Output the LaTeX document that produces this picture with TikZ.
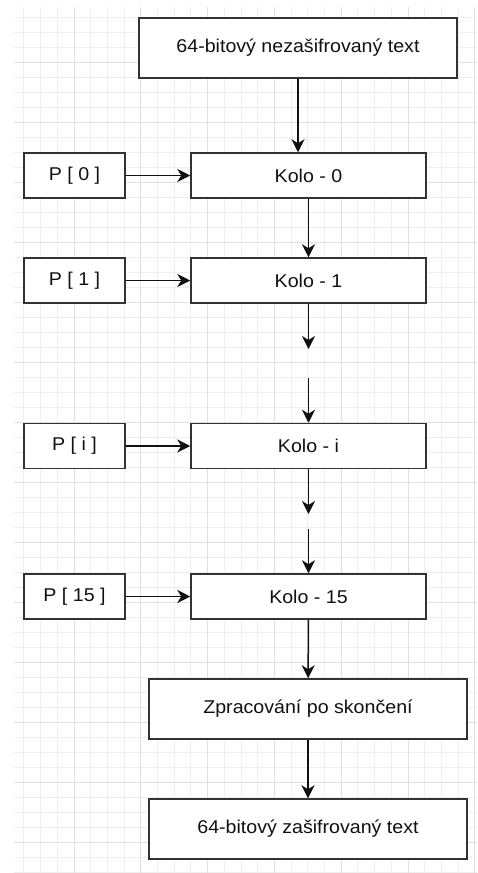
\documentclass[tikz,border=0pt]{standalone}
\usepackage{fontspec}
\setmainfont{Liberation Sans}
\usepackage{graphicx}
\usetikzlibrary{arrows.meta}
\definecolor{gridmajor}{HTML}{E0E0E0}
\definecolor{gridminor}{HTML}{EFEFEF}
\definecolor{boxline}{HTML}{333333}
\definecolor{ink}{HTML}{111111}
\newcommand{\widetxt}[1]{\scalebox{1.06}[1]{#1}}
\tikzset{
  stepbox/.style={draw=boxline, line width=1.5pt, fill=white, inner sep=0pt,
    font=\fontsize{18.5}{20}\selectfont, text=ink},
  flow/.style={draw=ink, line width=1.5pt,
    -{Stealth[length=13pt, width=13pt, inset=4pt]}},
}
\begin{document}
\begin{tikzpicture}[x=1pt, y=-1pt]
  \useasboundingbox (0,0) rectangle (477,873);
  \fill[white] (0,0) rectangle (477,873);
  % background grid
  \begin{scope}
    \clip (14,7) rectangle (477,873);
    \foreach \k in {-4,...,24} {
      \draw[gridminor, line width=1pt] ({74+16.7*\k},0) -- ({74+16.7*\k},873);
    }
    \foreach \k in {-4,...,55} {
      \draw[gridminor, line width=1pt] (0,{62+15*\k}) -- (477,{62+15*\k});
    }
    \foreach \k in {-1,...,6} {
      \draw[gridmajor, line width=1pt] ({74+66.8*\k},0) -- ({74+66.8*\k},873);
    }
    \foreach \k in {-1,...,13} {
      \draw[gridmajor, line width=1pt] (0,{62+60*\k}) -- (477,{62+60*\k});
    }
  \end{scope}

  % blocks
  \node[stepbox, minimum width=318, minimum height=60] (plain) at (298,48) {\widetxt{64-bitový nezašifrovaný text}};

  \node[stepbox, minimum width=235, minimum height=45] (k0) at (308.5,175.5) {\widetxt{Kolo - 0}};
  \node[stepbox, minimum width=101, minimum height=45] (p0) at (74.5,175.5) {\widetxt{P [ 0 ]}};

  \node[stepbox, minimum width=235, minimum height=45] (k1) at (308.5,280.5) {\widetxt{Kolo - 1}};
  \node[stepbox, minimum width=101, minimum height=45] (p1) at (74.5,280.5) {\widetxt{P [ 1 ]}};

  \node[stepbox, minimum width=235, minimum height=45] (ki) at (308.5,446) {\widetxt{Kolo - i}};
  \node[stepbox, minimum width=101, minimum height=45] (pi) at (74.5,446) {\widetxt{P [ i ]}};

  \node[stepbox, minimum width=235, minimum height=45] (k15) at (308.5,596.5) {\widetxt{Kolo - 15}};
  \node[stepbox, minimum width=101, minimum height=45] (p15) at (74.5,596.5) {\widetxt{P [ 15 ]}};

  \node[stepbox, minimum width=318, minimum height=60] (post) at (308,709) {\widetxt{Zpracování po skončení}};
  \node[stepbox, minimum width=318, minimum height=60] (cipher) at (308,829) {\widetxt{64-bitový zašifrovaný text}};

  % loose ends of the elided rounds
  \coordinate (gapAtop) at (308.5,349);
  \coordinate (gapAbot) at (308.5,378);
  \coordinate (gapBtop) at (308.5,514);
  \coordinate (gapBbot) at (308.5,529);

  % connectors
  \draw[flow] (plain.south) -- (plain.south |- k0.north);
  \draw[flow] (k0) -- (k1);
  \draw[flow] (k1.south) -- (gapAtop);
  \draw[flow] (gapAbot) -- (ki.north);
  \draw[flow] (ki.south) -- (gapBtop);
  \draw[flow] (gapBbot) -- (k15.north);
  \draw[flow] (k15) -- (post);
  \draw[flow] (post) -- (cipher);

  \draw[flow] (p0) -- (k0);
  \draw[flow] (p1) -- (k1);
  \draw[flow] (pi) -- (ki);
  \draw[flow] (p15) -- (k15);
\end{tikzpicture}
\end{document}
